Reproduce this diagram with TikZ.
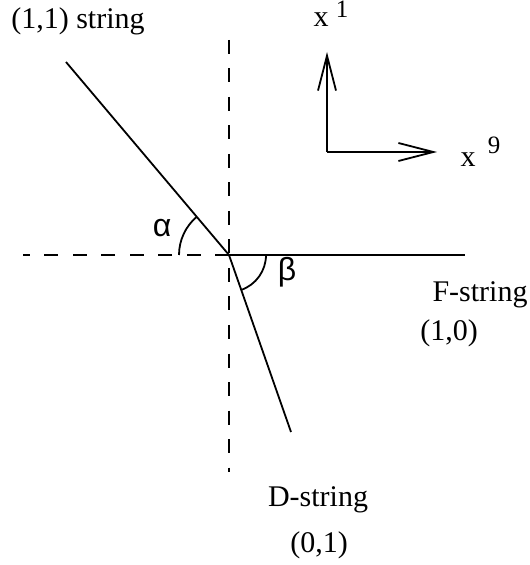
\documentclass[tikz,border=0pt]{standalone}
\usepackage{fontspec}
\setmainfont{Liberation Serif}
\newfontfamily\greekfont{Liberation Sans}
\usetikzlibrary{arrows.meta}
\tikzset{
  lbl/.style={font=\fontsize{15}{18}\selectfont,inner sep=0pt},
  greeklbl/.style={font=\greekfont\fontsize{16}{19}\selectfont,inner sep=0pt},
  supnum/.style={font=\fontsize{12.5}{15}\selectfont,inner sep=0pt},
  strline/.style={line width=0.9pt},
  guide/.style={line width=0.9pt,dash pattern=on 7pt off 7.25pt},
  axis/.style={line width=0.9pt,-{Straight Barb[length=17.5pt,width=9pt,line width=0.9pt]}},
  anglearc/.style={line width=0.9pt},
}

\begin{document}
\begin{tikzpicture}[x=0.5pt,y=-0.5pt]
\useasboundingbox (0,0) rectangle (529,565);
% junction and end points
\coordinate (O) at (229,255);
\coordinate (hl) at (23,255);
\coordinate (hr) at (465,255);
\coordinate (vt) at (229,40);
\coordinate (vb) at (229,472);
\coordinate (s11) at (66,62);
\coordinate (sD) at (291,432);
% guide lines
\draw[guide] (O) -- (hl);
\draw[guide] (vt) -- (vb);
% strings
\draw[strline] (O) -- (hr);
\draw[strline] (s11) -- (O);
\draw[strline] (O) -- (sD);
% angles
\draw[anglearc] ([shift={(-130.2:50)}]O) arc[start angle=-130.2,end angle=-180,radius=50];
\draw[anglearc] ([shift={(0:37)}]O) arc[start angle=0,end angle=70.7,radius=37];
\node[greeklbl] (alpha) at (162,228) {α};
\node[greeklbl] (beta) at (287,272) {β};
% axes
\coordinate (ax) at (327,152);
\coordinate (ax1) at (327,52);
\coordinate (ax9) at (437,152);
\draw[axis] (ax) -- (ax1);
\draw[axis] (ax) -- (ax9);
\node[lbl] (x1) at (321,20) {x};
\node[supnum] (n1) at (342,9) {1};
\node[lbl] (x9) at (468,160) {x};
\node[supnum] (n9) at (494,145) {9};
% labels
\node[lbl] (l11) at (78,21) {(1,1) string};
\node[lbl] (lF) at (480,295) {F-string};
\node[lbl] (lF2) at (449,333) {(1,0)};
\node[lbl] (lD) at (318,500) {D-string};
\node[lbl] (lD2) at (319,545) {(0,1)};
\end{tikzpicture}
\end{document}
